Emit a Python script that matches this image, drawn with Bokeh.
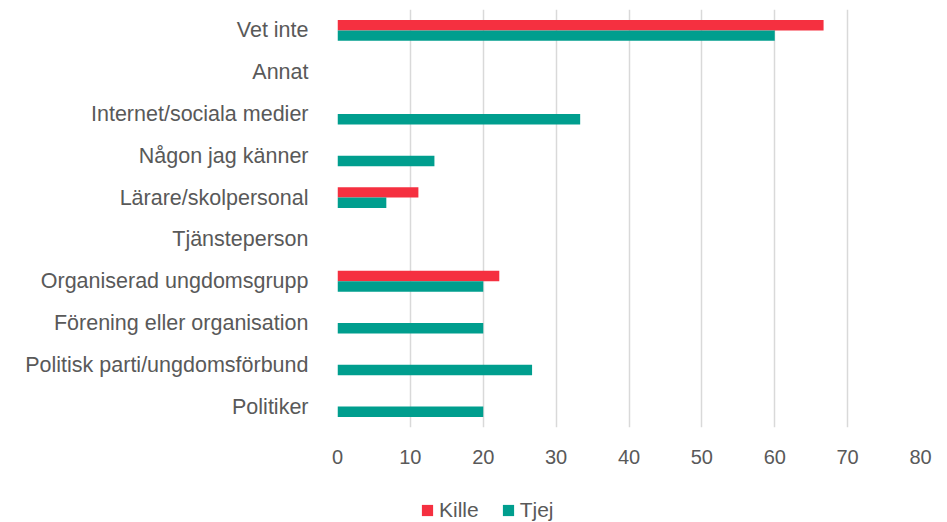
from bokeh.plotting import figure
from bokeh.layouts import column
from bokeh.models import ColumnDataSource, FactorRange, Legend, LegendItem, Range1d, FixedTicker
from bokeh.transform import dodge
from bokeh.embed import file_html
from bokeh.resources import INLINE

categories = ["Vet inte", "Annat", "Internet/sociala medier", "Någon jag känner",
              "Lärare/skolpersonal", "Tjänsteperson", "Organiserad ungdomsgrupp",
              "Förening eller organisation", "Politisk parti/ungdomsförbund", "Politiker"]
kille = [66.7, 0, 0, 0, 11.1, 0, 22.2, 0, 0, 0]
tjej = [60.0, 0, 33.3, 13.3, 6.7, 0, 20.0, 20.0, 26.7, 20.0]
x_ticks = [0, 10, 20, 30, 40, 50, 60, 70, 80]
series_names = ["Kille", "Tjej"]

FONT = "Liberation Sans"
TXT = "#595959"
RED = "#F53040"
TEAL = "#009E8E"

src = ColumnDataSource(dict(cat=categories, kille=kille, tjej=tjej))

p = figure(width=939, height=475, output_backend="svg", toolbar_location=None,
           y_range=FactorRange(factors=list(reversed(categories))),
           x_range=Range1d(0, 80),
           min_border_left=337, min_border_right=19, min_border_top=9, min_border_bottom=48)
p.outline_line_color = None

p.hbar(y=dodge("cat", 0.125, range=p.y_range), left=0, right="kille", height=0.25,
       source=src, fill_color=RED, line_color=None)
p.hbar(y=dodge("cat", -0.125, range=p.y_range), left=0, right="tjej", height=0.25,
       source=src, fill_color=TEAL, line_color=None)

p.xaxis.ticker = FixedTicker(ticks=x_ticks)
p.xaxis.axis_line_color = None
p.xaxis.major_tick_line_color = None
p.xaxis.major_tick_out = 0
p.xaxis.minor_tick_line_color = None
p.xaxis.minor_tick_out = 0
p.xaxis.major_label_text_font = FONT
p.xaxis.major_label_text_font_size = "20px"
p.xaxis.major_label_text_color = TXT
p.xaxis.major_label_standoff = 22

p.yaxis.axis_line_color = None
p.yaxis.major_tick_line_color = None
p.yaxis.major_tick_out = 0
p.yaxis.major_label_text_font = FONT
p.yaxis.major_label_text_font_size = "21.5px"
p.yaxis.major_label_text_color = TXT
p.yaxis.major_label_standoff = 29

p.xgrid.grid_line_color = "#D9D9D9"
p.xgrid.grid_line_width = 1.5
p.ygrid.grid_line_color = None

# legend strip (its frame gets aligned with the main plot's frame by the column layout)
lg = figure(width=939, height=47, output_backend="svg", toolbar_location=None,
            x_range=Range1d(0, 1), y_range=Range1d(0, 1),
            min_border_left=0, min_border_right=0, min_border_top=0, min_border_bottom=0)
lg.outline_line_color = None
lg.axis.visible = False
lg.xgrid.grid_line_color = None
lg.ygrid.grid_line_color = None
dummy = ColumnDataSource(dict(y=[0.5], r=[0]))
g1 = lg.hbar(y="y", left=0, right="r", height=0.0, source=dummy, fill_color=RED, line_color=None)
g2 = lg.hbar(y="y", left=0, right="r", height=0.0, source=dummy, fill_color=TEAL, line_color=None)
legend = Legend(items=[LegendItem(label=series_names[0], renderers=[g1]),
                       LegendItem(label=series_names[1], renderers=[g2])],
                orientation="horizontal", location=(83, 0),
                label_text_font=FONT, label_text_font_size="21px", label_text_color=TXT,
                glyph_width=14, glyph_height=14, spacing=22, label_standoff=5,
                border_line_color=None, background_fill_alpha=0, padding=0, margin=0)
lg.add_layout(legend)

layout = column(p, lg, spacing=0)
open("out.html", "w").write(file_html(layout, INLINE))
